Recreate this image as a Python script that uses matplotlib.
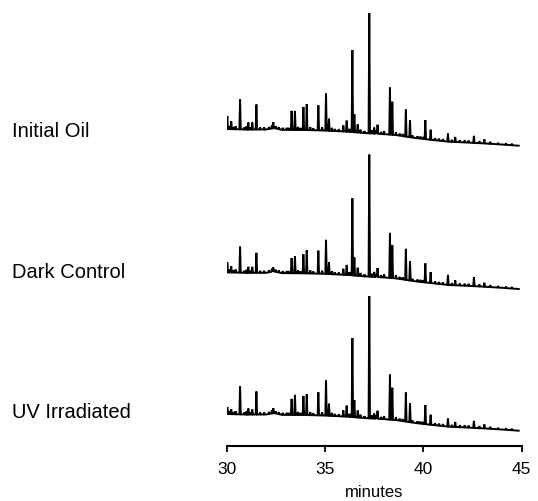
import numpy as np
import matplotlib
matplotlib.use("Agg")
import matplotlib.pyplot as plt

# Sample names (top to bottom)
SAMPLES = ["Initial Oil", "Dark Control", "UV Irradiated"]

# Main peak retention times (minutes)
PEAK_TIMES = [30.03, 30.23, 30.68, 31.10, 31.30, 31.51, 32.37, 33.30, 33.47,
              33.90, 34.07, 34.66, 35.05, 35.20, 35.93, 36.10, 36.39, 36.49,
              36.66, 37.25, 37.50, 37.67, 38.30, 38.42, 39.11, 39.32, 40.10,
              40.37, 41.25, 41.62, 42.57, 43.10]

# Peak heights above baseline for each sample
HEIGHTS_INITIAL = [13, 8, 30, 7, 7, 25, 6, 19, 19, 23, 26, 25, 37, 12, 6, 11,
                   82, 18, 8, 120, 6, 9, 47, 33, 27, 17, 19, 10, 8, 5, 7, 4]
HEIGHTS_DARK = [10, 6, 26, 6, 6, 20, 4, 15, 17, 19, 23, 23, 34, 12, 6, 10,
                77, 18, 8, 122, 5, 9, 45, 33, 31, 19, 19, 11, 10, 5, 9, 4]
HEIGHTS_UV = [7, 5, 28, 6, 5, 23, 5, 16, 20, 19, 21, 23, 35, 12, 6, 11,
              79, 17, 7, 122, 5, 8, 45, 32, 29, 19, 19, 10, 8, 5, 7, 4]

# Small baseline bumps (same for all traces)
MINOR_TIMES = [30.12, 30.35, 30.45, 30.90, 31.00, 31.20, 31.70, 31.90, 32.15,
               32.30, 32.50, 32.65, 32.85, 33.05, 33.15, 33.62, 33.75, 34.25,
               34.40, 34.85, 35.35, 35.50, 35.70, 36.25, 36.80, 37.00, 37.38,
               37.60, 37.85, 38.00, 38.60, 38.80, 38.95, 39.45, 39.70, 39.85,
               40.00, 40.60, 40.80, 41.00, 41.45, 41.85, 42.10, 42.30, 42.85,
               43.40, 43.80, 44.20, 44.50]
MINOR_HEIGHTS = [3, 2, 3, 2, 3, 2, 2, 2, 2, 3, 2, 2, 2, 2, 2, 3, 2, 3, 2, 3,
                 3, 2, 2, 3, 3, 2, 3, 3, 2, 3, 3, 2, 2, 2, 2, 2, 2, 2, 2, 2,
                 2, 2, 2, 2, 2, 2, 1.5, 1.5, 1.5]

# Baseline drift (drop below start level)
BASE_TIMES = [30.0, 31.0, 32.0, 32.4, 32.8, 34.0, 35.0, 36.2, 37.0, 37.9,
              38.6, 39.0, 39.6, 40.5, 41.3, 42.0, 43.0, 44.0, 44.85]
BASE_DROP = [0, 0.5, 0.5, -1.0, 0.8, 1.0, 1.5, 2.7, 4.0, 5.0, 6.0, 7.2, 9.0,
             11.0, 12.7, 13.3, 14.3, 15.5, 16.7]

XTICKS = [30, 35, 40, 45]

W, H = 538, 502
fig = plt.figure(figsize=(W / 100, H / 100), dpi=100)
ax = fig.add_axes([226.7 / W, 55.3 / H, 295 / W, 446.7 / H])

levels = [316.7, 173.4, 31.7]  # vertical offsets of each trace
heights_all = [HEIGHTS_INITIAL, HEIGHTS_DARK, HEIGHTS_UV]
label_y = [131.7, 273.0, 413.0]

hw = 0.035  # peak half-width in minutes


def build_trace(level, heights):
    xs = list(BASE_TIMES)
    ys = [level - d for d in BASE_DROP]
    for t, h in list(zip(PEAK_TIMES, heights)) + list(zip(MINOR_TIMES, MINOR_HEIGHTS)):
        for dt, dh in ((-hw, 0), (0, h), (hw, 0)):
            x = t + dt
            xs.append(x)
            ys.append(level - np.interp(x, BASE_TIMES, BASE_DROP) + dh)
    order = np.argsort(xs, kind="stable")
    return np.array(xs)[order], np.array(ys)[order]


for name, level, hts, ly in zip(SAMPLES, levels, heights_all, label_y):
    x, y = build_trace(level, hts)
    ax.plot(x, y, color="black", lw=1.4, solid_joinstyle="miter")
    fig.text(11.7 / W, 1 - ly / H, name, fontsize=14.5, family="Liberation Sans",
             va="center", ha="left")

ax.set_xlim(30, 45)
ax.set_ylim(0, 446.7)
for s in ("top", "right", "left"):
    ax.spines[s].set_visible(False)
ax.spines["bottom"].set_linewidth(1.5)
ax.set_yticks([])
ax.set_xticks(XTICKS)
ax.set_xticklabels([str(t) for t in XTICKS], fontsize=12.5, family="Liberation Sans")
ax.tick_params(axis="x", direction="out", length=4, width=1.3, pad=7)
ax.set_xlabel("minutes", fontsize=12, family="Liberation Sans", labelpad=6)

fig.savefig("out.png", dpi=100)
